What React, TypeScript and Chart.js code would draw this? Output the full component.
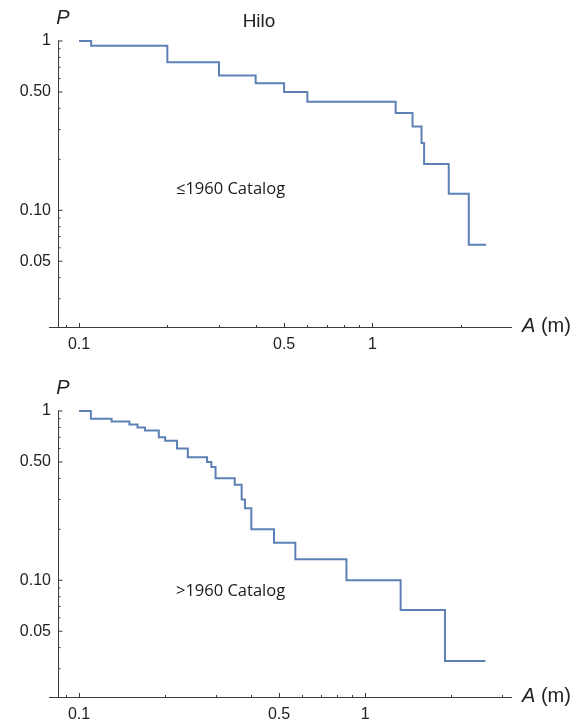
import React, { useEffect, useRef } from "react";
import { Chart, registerables } from "chart.js";

Chart.register(...registerables);

// ---- data: survival curves P(A) for Hilo ----
const preAmplitude = [0.1, 0.11, 0.2, 0.3, 0.4, 0.5, 0.6, 1.2, 1.37, 1.47, 1.5, 1.82, 2.13, 2.44];
const preProbability = [1, 0.9375, 0.75, 0.625, 0.5625, 0.5, 0.4375, 0.375, 0.3125, 0.25, 0.1875, 0.125, 0.0625, 0.0625];

const postAmplitude = [0.1, 0.11, 0.13, 0.15, 0.16, 0.17, 0.19, 0.2, 0.22, 0.24, 0.28, 0.29, 0.3, 0.35, 0.37, 0.38, 0.4, 0.48, 0.57, 0.86, 1.33, 1.9, 2.63];
const postProbability = [1, 0.9, 0.8667, 0.8333, 0.8, 0.7667, 0.7, 0.6667, 0.6, 0.5333, 0.5, 0.4667, 0.4, 0.3667, 0.3, 0.2667, 0.2, 0.1667, 0.1333, 0.1, 0.0667, 0.0333, 0.0333];

// ---- tick labels ----
const yMajorTicks = [1, 0.5, 0.1, 0.05];
const yMajorLabels = ["1", "0.50", "0.10", "0.05"];
const yMinorTicks = [0.9, 0.8, 0.7, 0.6, 0.4, 0.3, 0.2, 0.09, 0.08, 0.07, 0.06, 0.04, 0.03, 0.02];
const xMajorTicks = [0.1, 0.5, 1];
const xMajorLabels = ["0.1", "0.5", "1"];
const xMinorTicks = [0.09, 0.2, 0.3, 0.4, 0.6, 0.7, 0.8, 0.9, 2, 3];

const titleText = "Hilo";
const preLabel = "\u22641960 Catalog";
const postLabel = ">1960 Catalog";

const LINE_COLOR = "#5e81b5";
const AXIS_COLOR = "#3a3a3a";
const TEXT_COLOR = "#222";
const SANS = "'Liberation Sans', Arial, sans-serif";

type PanelOpts = {
  title?: string;
  label: string;
  labelDy: number;
};

const mmaAxes = {
  id: "mmaAxes",
  beforeDatasetsDraw(chart: any) {
    const { ctx, chartArea } = chart;
    const xs = chart.scales.x;
    const ys = chart.scales.y;
    const left = chartArea.left;
    const bottom = chartArea.bottom;
    ctx.save();
    ctx.strokeStyle = AXIS_COLOR;
    ctx.lineWidth = 1;
    ctx.beginPath();
    ctx.moveTo(left - 9, bottom);
    ctx.lineTo(chartArea.right, bottom);
    ctx.moveTo(left + 0.5, chartArea.top - 0.5);
    ctx.lineTo(left + 0.5, bottom);
    const inY = (v: number) => v <= ys.max * 1.0001 && v >= ys.min;
    const inX = (v: number) => v <= xs.max && v >= xs.min;
    yMajorTicks.forEach((v) => {
      if (!inY(v)) return;
      const p = ys.getPixelForValue(v);
      ctx.moveTo(left, p);
      ctx.lineTo(left + 4.5, p);
    });
    yMinorTicks.forEach((v) => {
      if (!inY(v)) return;
      const p = ys.getPixelForValue(v);
      ctx.moveTo(left, p);
      ctx.lineTo(left + 2.5, p);
    });
    xMajorTicks.forEach((v) => {
      if (!inX(v)) return;
      const p = Math.round(xs.getPixelForValue(v)) + 0.5;
      ctx.moveTo(p, bottom);
      ctx.lineTo(p, bottom - 4.5);
    });
    xMinorTicks.forEach((v) => {
      if (!inX(v)) return;
      const p = Math.round(xs.getPixelForValue(v)) + 0.5;
      ctx.moveTo(p, bottom);
      ctx.lineTo(p, bottom - 2.5);
    });
    ctx.stroke();
    ctx.restore();
  },
  afterDraw(chart: any, _args: any, opts: PanelOpts) {
    const { ctx, chartArea } = chart;
    const xs = chart.scales.x;
    const ys = chart.scales.y;
    ctx.save();
    ctx.fillStyle = TEXT_COLOR;
    ctx.textBaseline = "middle";
    // y tick labels
    ctx.font = `16px ${SANS}`;
    ctx.textAlign = "right";
    yMajorTicks.forEach((v, i) => {
      ctx.fillText(yMajorLabels[i], chartArea.left - 7, ys.getPixelForValue(v));
    });
    // x tick labels
    ctx.textAlign = "center";
    xMajorTicks.forEach((v, i) => {
      ctx.fillText(xMajorLabels[i], xs.getPixelForValue(v), chartArea.bottom + 17);
    });
    // axis names
    ctx.font = `italic 20px ${SANS}`;
    ctx.textAlign = "center";
    ctx.fillText("P", chartArea.left + 5, chartArea.top - 23);
    ctx.textAlign = "left";
    const ax = chartArea.right + 10;
    const ay = chartArea.bottom - 1;
    ctx.fillText("A", ax, ay);
    const aw = ctx.measureText("A").width;
    ctx.font = `20px ${SANS}`;
    ctx.fillText(" (m)", ax + aw, ay);
    // title
    if (opts.title) {
      ctx.font = `19px ${SANS}`;
      ctx.textAlign = "center";
      ctx.fillText(opts.title, 259, chartArea.top - 19);
    }
    // catalog label
    ctx.font = `16.5px 'Open Sans', sans-serif`;
    ctx.textAlign = "left";
    ctx.fillStyle = "#1a1a1a";
    ctx.fillText(opts.label, 176, chartArea.top + opts.labelDy);
    ctx.restore();
  },
};

function Panel(props: {
  width: number;
  height: number;
  top: number;
  amp: number[];
  prob: number[];
  xMin: number;
  xMax: number;
  padBottom: number;
  opts: PanelOpts;
}) {
  const ref = useRef<HTMLCanvasElement | null>(null);
  useEffect(() => {
    if (!ref.current) return;
    const chart = new Chart(ref.current, {
      type: "line",
      data: {
        datasets: [
          {
            data: props.amp.map((a, i) => ({ x: a, y: props.prob[i] })),
            borderColor: LINE_COLOR,
            borderWidth: 2,
            pointRadius: 0,
            stepped: "before",
            fill: false,
            clip: false as any,
          },
        ],
      },
      options: {
        animation: false,
        responsive: false,
        devicePixelRatio: 1,
        layout: { padding: { left: 58, right: 71, top: 41, bottom: props.padBottom } },
        plugins: {
          legend: { display: false },
          tooltip: { enabled: false },
          mmaAxes: props.opts as any,
        } as any,
        scales: {
          x: { type: "logarithmic", min: props.xMin, max: props.xMax, display: false },
          y: { type: "logarithmic", min: 0.0203, max: 1, display: false },
        },
      },
      plugins: [mmaAxes as any],
    });
    return () => chart.destroy();
  }, []);
  return (
    <canvas
      ref={ref}
      width={props.width}
      height={props.height}
      style={{ position: "absolute", left: 0, top: props.top, width: props.width, height: props.height, display: "block" }}
    />
  );
}

export default function App() {
  return (
    <div style={{ position: "absolute", left: 0, top: 0, width: 583, height: 722, background: "#fff" }}>
      <Panel
        width={583}
        height={370}
        top={0}
        amp={preAmplitude}
        prob={preProbability}
        xMin={0.0848}
        xMax={2.99}
        padBottom={42.5}
        opts={{ title: titleText, label: preLabel, labelDy: 148 }}
      />
      <Panel
        width={583}
        height={352}
        top={370}
        amp={postAmplitude}
        prob={postProbability}
        xMin={0.08444}
        xMax={3.258}
        padBottom={24.5}
        opts={{ label: postLabel, labelDy: 180 }}
      />
    </div>
  );
}
